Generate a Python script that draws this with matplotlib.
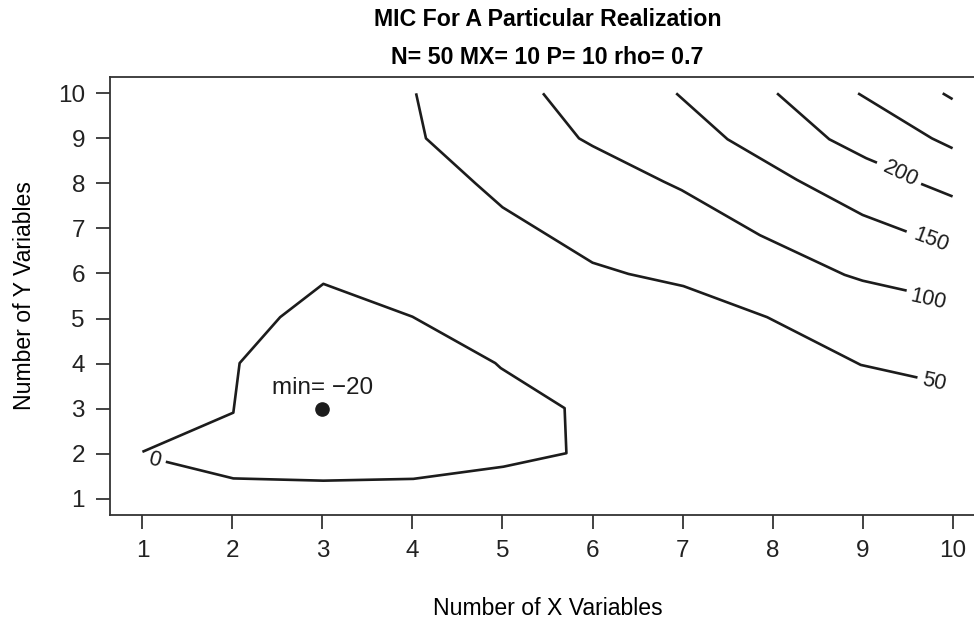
import numpy as np
import matplotlib
matplotlib.use('Agg')
import matplotlib.pyplot as plt

plt.rcParams['font.family'] = ['Liberation Sans', 'DejaVu Sans']

# contour lines (visible pieces only, gaps where R put the labels)
c0_x = [1.0, 2.01, 2.08, 2.53, 3.01, 4.0, 4.92, 4.98, 5.69, 5.71, 5.01, 4.01, 3.01, 2.01, 1.26]
c0_y = [2.04, 2.91, 4.01, 5.03, 5.77, 5.04, 4.01, 3.90, 3.01, 2.01, 1.71, 1.44, 1.40, 1.45, 1.82]
c50_x = [4.04, 4.15, 4.70, 5.0, 6.0, 6.40, 7.01, 7.94, 8.98, 9.61]
c50_y = [10.0, 9.0, 8.0, 7.47, 6.24, 5.99, 5.72, 5.03, 3.97, 3.69]
c100_x = [5.45, 5.85, 6.0, 6.79, 6.99, 7.86, 8.80, 9.0, 9.49]
c100_y = [10.0, 9.0, 8.83, 8.04, 7.85, 6.85, 5.97, 5.84, 5.62]
c150_x = [6.93, 7.50, 8.27, 9.0, 9.49]
c150_y = [10.0, 8.98, 8.08, 7.30, 6.93]
c200a_x = [8.05, 8.63, 9.04, 9.16]
c200a_y = [10.0, 8.98, 8.56, 8.46]
c200b_x = [9.65, 10.0]
c200b_y = [7.99, 7.71]
c250_x = [8.95, 9.77, 10.0]
c250_y = [10.0, 9.0, 8.78]
c300_x = [9.89, 10.0]
c300_y = [10.0, 9.87]

# contour labels: text, position
label_text = ['0', '50', '100', '150', '200']
label_x = [1.13, 9.79, 9.73, 9.76, 9.42]
label_y = [1.86, 3.58, 5.41, 6.73, 8.21]

min_x, min_y, min_val = 3, 3, -20

ticks = list(range(1, 11))

fig = plt.figure(figsize=(9.74, 6.21), dpi=100)
ax = fig.add_axes([110/974, (621-514.9)/621, 875/974, (514.9-77.1)/621])
ax.set_xlim(0.64, 10.36)
ax.set_ylim(0.64, 10.36)

lc = '#1c1c1c'
segs = [(c0_x, c0_y), (c50_x, c50_y), (c100_x, c100_y), (c150_x, c150_y),
        (c200a_x, c200a_y), (c200b_x, c200b_y), (c250_x, c250_y), (c300_x, c300_y)]
for sx, sy in segs:
    ax.plot(sx, sy, color=lc, lw=1.9, solid_capstyle='butt')

# label angle follows the line piece next to it
near = [((c0_x[-2], c0_y[-2]), (c0_x[-1], c0_y[-1])),
        ((c50_x[-2], c50_y[-2]), (c50_x[-1], c50_y[-1])),
        ((c100_x[-2], c100_y[-2]), (c100_x[-1], c100_y[-1])),
        ((c150_x[-2], c150_y[-2]), (c150_x[-1], c150_y[-1])),
        ((c200a_x[-1], c200a_y[-1]), (c200b_x[0], c200b_y[0]))]
for t, lx, ly, (p, q) in zip(label_text, label_x, label_y, near):
    a = ax.transData.transform(p)
    b = ax.transData.transform(q)
    ang = np.degrees(np.arctan2(b[1] - a[1], b[0] - a[0]))
    if ang > 90:
        ang -= 180
    if ang < -90:
        ang += 180
    ax.text(lx, ly, t, ha='center', va='center', rotation=ang,
            rotation_mode='anchor', fontsize=15.5, color=lc)

ax.plot([min_x], [min_y], 'o', color=lc, ms=9.5)
ax.text(min_x, min_y + 0.45, f'min= \u2212{abs(min_val)}', ha='center', va='center',
        fontsize=17.5, color=lc)

ax.set_xticks(ticks)
ax.set_yticks(ticks)
ax.tick_params(direction='out', length=10, width=1.2, pad=8, labelsize=17.5, colors='#222')
for s in ax.spines.values():
    s.set_linewidth(1.3)
    s.set_color('#333')

ax.set_xlabel('Number of X Variables', fontsize=16.6, labelpad=25)
ax.set_ylabel('Number of Y Variables', fontsize=16.6, labelpad=16)

fig.text(547.5/974, 1 - 19/621, 'MIC For A Particular Realization', ha='center', va='center',
         fontsize=16.7, fontweight='bold')
fig.text(547.5/974, 1 - 58/621, 'N= 50 MX= 10 P= 10 rho= 0.7', ha='center', va='center',
         fontsize=16.7, fontweight='bold')

fig.savefig('out.png', dpi=100)
